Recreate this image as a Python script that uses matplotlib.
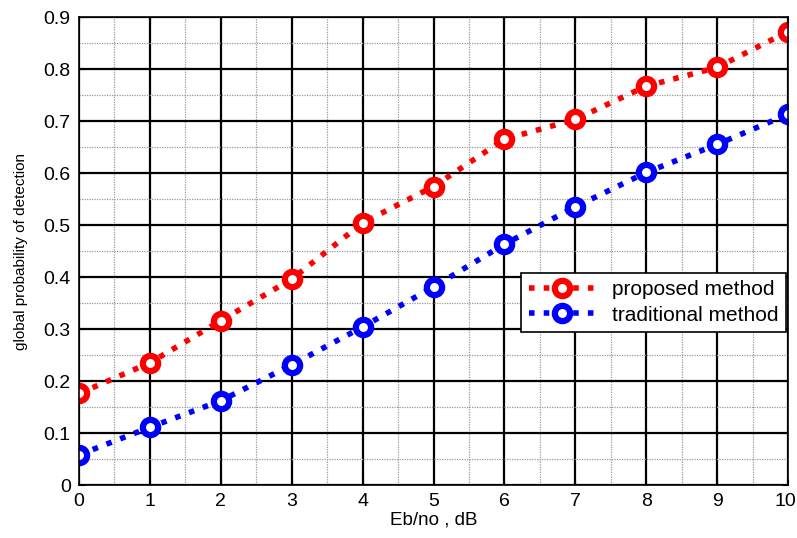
import matplotlib.pyplot as plt
import matplotlib.transforms as mtransforms
from matplotlib.ticker import MultipleLocator

plt.rcParams['font.family'] = ['Liberation Sans', 'DejaVu Sans']

snr_db = [0, 1, 2, 3, 4, 5, 6, 7, 8, 9, 10]
pd_proposed = [0.176, 0.235, 0.316, 0.396, 0.504, 0.574, 0.665, 0.703, 0.767, 0.803, 0.872]
pd_traditional = [0.058, 0.111, 0.162, 0.231, 0.304, 0.381, 0.463, 0.535, 0.601, 0.655, 0.713]
y_ticks = [0, 0.1, 0.2, 0.3, 0.4, 0.5, 0.6, 0.7, 0.8, 0.9]
y_ticklabels = ['0', '0.1', '0.2', '0.3', '0.4', '0.5', '0.6', '0.7', '0.8', '0.9']

fig = plt.figure(figsize=(7.97, 5.38), dpi=100)
ax = fig.add_axes([79 / 797, 1 - 485 / 538, 709 / 797, 468 / 538])

style = dict(linestyle=':', linewidth=4, marker='o', markersize=11,
             markerfacecolor='white', markeredgewidth=4.5)
ax.plot(snr_db, pd_proposed, color='red', label='proposed method', **style)
ax.plot(snr_db, pd_traditional, color='blue', label='traditional method', **style)

ax.set_xlim(0, 10)
ax.set_ylim(0, 0.9)
ax.set_xticks(snr_db)
ax.set_yticks(y_ticks)
ax.set_yticklabels(y_ticklabels)
ax.xaxis.set_minor_locator(MultipleLocator(0.5))
ax.yaxis.set_minor_locator(MultipleLocator(0.05))

# solid black major grid, fine grey minor grid (MATLAB look)
ax.grid(which='major', color='black', linestyle='-', linewidth=1.6)
ax.grid(which='minor', color='0.6', linestyle=(0, (1, 1)), linewidth=0.9)
ax.set_axisbelow(True)

ax.tick_params(which='major', direction='in', top=True, right=True,
               length=4, labelsize=14, pad=6)
ax.tick_params(which='minor', length=0)
for s in ax.spines.values():
    s.set_linewidth(1.2)

# nudge the last x label so it stays inside the figure
last = ax.get_xticklabels()[-1]
last.set_transform(last.get_transform()
                   + mtransforms.ScaledTranslation(-3 / 100, 0, fig.dpi_scale_trans))

ax.set_xlabel('Eb/no , dB', fontsize=13.5, labelpad=1)
ax.set_ylabel('global probability of detection', fontsize=11, labelpad=11)

leg = ax.legend(loc='upper right', bbox_to_anchor=(0.997, 0.453), fontsize=15,
                fancybox=False, edgecolor='black', framealpha=1,
                handlelength=3.2, borderpad=0.35, labelspacing=0.3,
                borderaxespad=0)
leg.get_frame().set_linewidth(1.2)

fig.savefig('out.png', dpi=100)
